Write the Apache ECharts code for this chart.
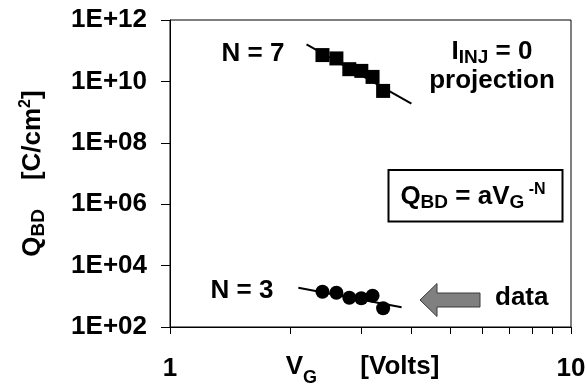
<!DOCTYPE html>
<html><head><meta charset="utf-8">
<script src="https://cdn.jsdelivr.net/npm/echarts@6/dist/echarts.min.js"></script>
<style>html,body{margin:0;padding:0;background:#fff}#c{width:587px;height:388px}</style>
</head><body><div id="c"></div>
<script>
// ---- data ----
const vgValues = [2.4, 2.6, 2.8, 3.0, 3.2, 3.4];
const qbdProjection = [7.2e10, 5.6e10, 2.5e10, 2.2e10, 1.4e10, 4.9e9];
const qbdData = [1410, 1310, 900, 860, 1050, 410];
const fitN7 = [[2.19, 1.6e11], [4.0, 1.9e9]];
const fitN3 = [[2.09, 1900], [3.78, 440]];
const xTickValues = [1, 2, 3, 4, 5, 6, 7, 8, 9, 10];
const xLabelValues = [1, 10];
const yTickValues = [1e2, 1e4, 1e6, 1e8, 1e10, 1e12];

const FF = "'Liberation Sans', Arial, sans-serif";
const FS = 26;
const richBase = {
  m: { fontSize: FS, fontWeight: 'bold', fontFamily: FF, color: '#000', lineHeight: 30, verticalAlign: 'middle' },
  s: { fontSize: 19, fontWeight: 'bold', fontFamily: FF, color: '#000', lineHeight: 14, verticalAlign: 'bottom' },
  p: { fontSize: 16, fontWeight: 'bold', fontFamily: FF, color: '#000', lineHeight: 18, verticalAlign: 'top' }
};
const richX = {
  m: { fontSize: FS, fontWeight: 'bold', fontFamily: FF, color: '#000', lineHeight: 40, verticalAlign: 'middle' },
  s: { fontSize: 18, fontWeight: 'bold', fontFamily: FF, color: '#000', lineHeight: 15, verticalAlign: 'bottom' }
};

function pairs(xs, ys) { return xs.map((x, i) => [x, ys[i]]); }

function txt(x, y, text, align, rich) {
  const style = { text: text, fill: '#000', font: 'bold ' + FS + 'px ' + FF,
    fontSize: FS, fontWeight: 'bold', fontFamily: FF,
    align: align, verticalAlign: 'middle', textAlign: align, textVerticalAlign: 'middle' };
  if (rich) style.rich = rich;
  return { type: 'text', x: x, y: y, z: 100, style: style };
}

const chart = echarts.init(document.getElementById('c'), null, { renderer: 'canvas' });
chart.setOption({
  animation: false,
  backgroundColor: '#fff',
  grid: { left: 170, top: 20, right: 16, bottom: 61, show: true, borderColor: '#000', borderWidth: 1,
    backgroundColor: 'transparent', containLabel: false, outerBoundsMode: 'none' },
  xAxis: {
    type: 'log', logBase: 10, min: 1, max: 10,
    axisLine: { show: true, onZero: false, lineStyle: { color: '#000', width: 1 } },
    axisTick: { show: true, length: 7, lineStyle: { color: '#000' }, customValues: xTickValues },
    axisLabel: { customValues: xLabelValues, margin: 29, color: '#000', fontSize: FS, fontWeight: 'bold', fontFamily: FF,
      formatter: v => String(Math.round(v)) },
    splitLine: { show: false }, minorTick: { show: false },
    name: '{m|V}{s|G}{m|      [Volts]}', nameLocation: 'middle', nameGap: 20, nameMoveOverlap: false,
    nameTextStyle: { rich: richX, padding: [0, 16, 0, 0] }
  },
  yAxis: {
    type: 'log', logBase: 10, min: 1e2, max: 1e12,
    axisLine: { show: true, onZero: false, lineStyle: { color: '#000', width: 1 } },
    axisTick: { show: true, length: 9, lineStyle: { color: '#000' }, customValues: yTickValues },
    axisLabel: { customValues: yTickValues, margin: 23, color: '#000', fontSize: FS, fontWeight: 'bold', fontFamily: FF,
      formatter: v => '1E+' + String(Math.round(Math.log10(v))).padStart(2, '0') },
    splitLine: { show: false }, minorTick: { show: false },
    name: '{m|Q}{s|BD}{m|    [C/cm}{p|2}{m|]}', nameLocation: 'middle', nameRotate: 90, nameGap: 122, nameMoveOverlap: false,
    nameTextStyle: { rich: richBase }
  },
  series: [
    { type: 'line', data: fitN7, symbol: 'none', lineStyle: { color: '#000', width: 2 }, z: 2 },
    { type: 'line', data: fitN3, symbol: 'none', lineStyle: { color: '#000', width: 2 }, z: 2 },
    { type: 'scatter', data: pairs(vgValues, qbdProjection), symbol: 'rect', symbolSize: 14, itemStyle: { color: '#000', opacity: 1 }, z: 3 },
    { type: 'scatter', data: pairs(vgValues, qbdData), symbol: 'circle', symbolSize: 14, itemStyle: { color: '#000', opacity: 1 }, z: 3 }
  ],
  graphic: [
    txt(253, 54, 'N = 7', 'center'),
    txt(242, 291, 'N = 3', 'center'),
    txt(492, 52, '{m|I}{s|INJ}{m| = 0}', 'center', richBase),
    txt(492, 81, 'projection', 'center'),
    { type: 'rect', z: 99, shape: { x: 388.5, y: 170, width: 174, height: 51.5 }, style: { fill: '#fff', stroke: '#000', lineWidth: 2 } },
    txt(473, 197, '{m|Q}{s|BD}{m| = aV}{s|G}{p| -N}', 'center', richBase),
    { type: 'polygon', z: 99, shape: { points: [[420, 300], [437, 283.5], [437, 293], [480, 293], [480, 307], [437, 307], [437, 316.5]] },
      style: { fill: '#808080', stroke: '#3a3a3a', lineWidth: 1 } },
    txt(495, 298, 'data', 'left')
  ]
});
</script></body></html>
